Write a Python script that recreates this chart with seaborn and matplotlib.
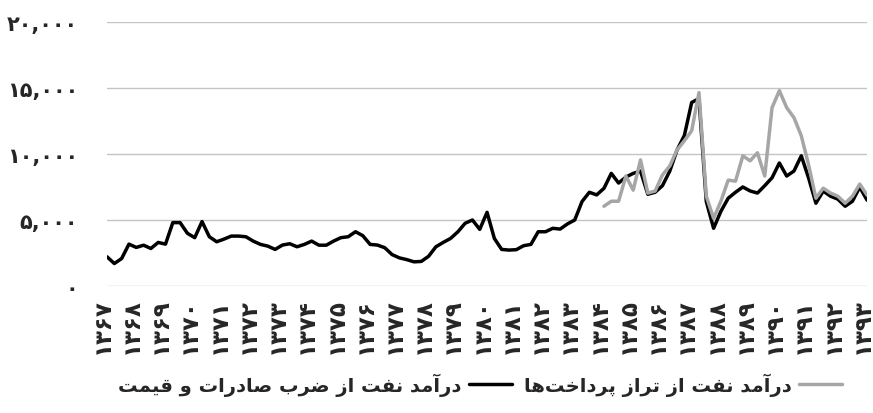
import unicodedata
import pandas as pd
import matplotlib
matplotlib.use("Agg")
import matplotlib.pyplot as plt
import matplotlib.transforms as mtransforms
import seaborn as sns

# quarterly oil revenue, 1367 Q1 .. 1393 Q1
years = list(range(1367, 1394))
trade_rev = [2210, 1700, 2080, 3170, 2920, 3090, 2840, 3300, 3170, 4800,
             4800, 3990, 3660, 4880, 3730, 3350, 3550, 3780, 3780, 3730,
             3400, 3150, 3020, 2770, 3100, 3200, 2970, 3150, 3400, 3090,
             3090, 3400, 3660, 3730, 4110, 3810, 3150, 3100, 2900, 2380,
             2130, 2000, 1830, 1860, 2250, 2970, 3300, 3600, 4100, 4750,
             5000, 4290, 5580, 3600, 2770, 2720, 2750, 3050, 3150, 4110,
             4110, 4370, 4310, 4700, 5000, 6400, 7100, 6900, 7400, 8530,
             7800, 8250, 8530, 8700, 6950, 7100, 7600, 8700, 10300, 11400,
             13900, 14200, 6400, 4370, 5660, 6650, 7100, 7500, 7200, 7040,
             7600, 8200, 9320, 8330, 8710, 9860, 8180, 6270, 7190, 6800,
             6580, 6040, 6420, 7490, 6500]
# balance-of-payments series starts at 1384 Q1
bop_start = 68
bop_rev = [6040, 6420, 6420, 8330, 7260, 9550, 7040, 7190, 8410, 9090,
           10310, 11000, 11760, 14650, 6800, 5130, 6420, 8020, 7940, 9860,
           9480, 10090, 8330, 13510, 14800, 13510, 12750, 11380, 9170, 6650,
           7410, 7040, 6800, 6270, 6800, 7720, 6880]
yticks = [0, 5000, 10000, 15000, 20000]
label_trade = "درآمد نفت از ضرب صادرات و قیمت"
label_bop = "درآمد نفت از تراز پرداخت‌ها"

# matplotlib has no arabic shaping, so do it by hand with presentation forms
FORMS = {
    '\u0627': ('\uFE8D', '\uFE8E', None, None),
    '\u0622': ('\uFE81', '\uFE82', None, None),
    '\u062F': ('\uFEA9', '\uFEAA', None, None),
    '\u0631': ('\uFEAD', '\uFEAE', None, None),
    '\u0632': ('\uFEAF', '\uFEB0', None, None),
    '\u0648': ('\uFEED', '\uFEEE', None, None),
    '\u0628': ('\uFE8F', '\uFE90', '\uFE91', '\uFE92'),
    '\u062A': ('\uFE95', '\uFE96', '\uFE97', '\uFE98'),
    '\u062E': ('\uFEA5', '\uFEA6', '\uFEA7', '\uFEA8'),
    '\u0635': ('\uFEB9', '\uFEBA', '\uFEBB', '\uFEBC'),
    '\u0636': ('\uFEBD', '\uFEBE', '\uFEBF', '\uFEC0'),
    '\u0641': ('\uFED1', '\uFED2', '\uFED3', '\uFED4'),
    '\u0642': ('\uFED5', '\uFED6', '\uFED7', '\uFED8'),
    '\u0645': ('\uFEE1', '\uFEE2', '\uFEE3', '\uFEE4'),
    '\u0646': ('\uFEE5', '\uFEE6', '\uFEE7', '\uFEE8'),
    '\u0647': ('\uFEE9', '\uFEEA', '\uFEEB', '\uFEEC'),
    '\u067E': ('\uFB56', '\uFB57', '\uFB58', '\uFB59'),
    '\u06CC': ('\uFBFC', '\uFBFD', '\uFBFE', '\uFBFF'),
    '\u064A': ('\uFBFC', '\uFBFD', '\uFBFE', '\uFBFF'),
}


def shape(text):
    text = unicodedata.normalize('NFC', text)
    dual = lambda c: c in FORMS and FORMS[c][2] is not None
    out = []
    for i, c in enumerate(text):
        if c not in FORMS:
            if c != '\u200c':
                out.append(c)
            continue
        prev = text[i - 1] if i > 0 else ''
        nxt = text[i + 1] if i + 1 < len(text) else ''
        p = dual(prev)
        n = dual(c) and nxt in FORMS
        iso, fin, ini, med = FORMS[c]
        out.append(med if p and n else fin if p else ini if n else iso)
    return ''.join(reversed(out))


fa = str.maketrans('0123456789', '۰۱۲۳۴۵۶۷۸۹')

df_trade = pd.DataFrame({'q': range(len(trade_rev)), 'v': trade_rev})
df_bop = pd.DataFrame({'q': range(bop_start, bop_start + len(bop_rev)), 'v': bop_rev})

sns.set_style('white')
plt.rcParams['font.family'] = ['DejaVu Sans']
plt.rcParams['font.weight'] = 'bold'

fig = plt.figure(figsize=(8.73, 4.14), dpi=100)
ax = fig.add_axes([0.1226, 0.3068, 0.8706, 0.6377])

sns.lineplot(data=df_trade, x='q', y='v', color='black', linewidth=2.5, ax=ax,
             label=shape(label_trade))
sns.lineplot(data=df_bop, x='q', y='v', color='#a6a6a6', linewidth=2.5, ax=ax,
             label=shape(label_bop))

ax.set_xlim(0, len(trade_rev) - 1)
ax.set_ylim(0, 20000)
ax.set_yticks(yticks)
ax.set_yticklabels([f'{v:,}'.translate(fa) for v in yticks], fontsize=15, fontweight='bold')
ax.set_xticks(range(0, len(trade_rev), 4))
ax.set_xticklabels([str(y).translate(fa) for y in years], rotation=90, fontsize=16.5,
                   fontweight='bold')
ax.tick_params(axis='y', length=0, pad=21)
ax.tick_params(axis='x', length=0, pad=8)
# nudge year labels a little left so the last one stays on the canvas
shift = mtransforms.ScaledTranslation(-5 / 100, 0, fig.dpi_scale_trans)
for t in ax.get_xticklabels():
    t.set_transform(t.get_transform() + shift)
ax.set_xlabel('')
ax.set_ylabel('')
ax.grid(axis='y', color='#c4c4c4', linewidth=1)
ax.grid(axis='x', visible=False)
for s in ax.spines.values():
    s.set_visible(False)

h, l = ax.get_legend_handles_labels()
ax.legend(h, l, ncol=2, markerfirst=False, frameon=False, loc='center',
          bbox_to_anchor=(0.55, 0.07), bbox_transform=fig.transFigure,
          prop={'size': 14, 'weight': 'bold'}, handlelength=2.2, columnspacing=0.6,
          handletextpad=0.4)

fig.savefig('out.png', dpi=100)
